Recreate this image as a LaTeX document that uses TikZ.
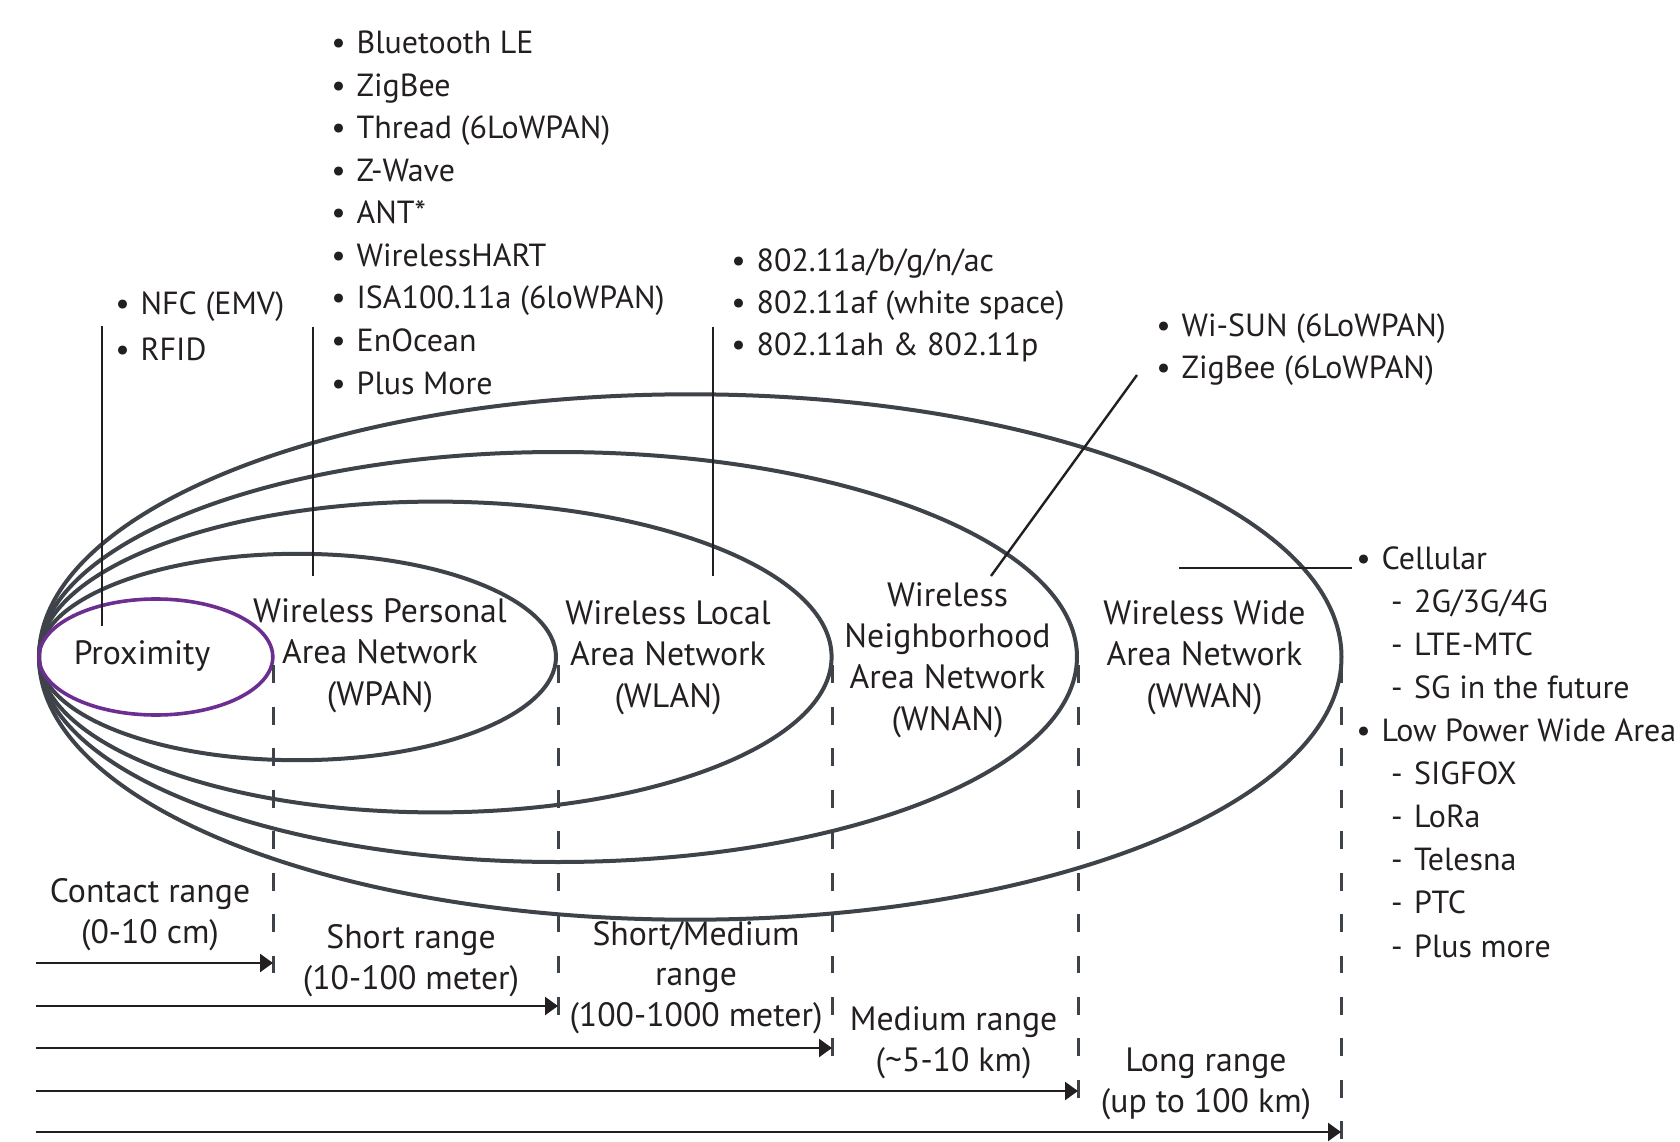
\documentclass[tikz,border=0pt]{standalone}
\usepackage{fontspec}
\setmainfont{PT Sans}
\usetikzlibrary{arrows.meta,positioning}
\definecolor{ringgray}{RGB}{62,67,74}
\definecolor{inkdark}{RGB}{35,31,32}
\definecolor{proxpurple}{RGB}{108,46,145}
\newcommand{\itm}{\makebox[3.6mm][c]{\textbullet}}
\newcommand{\subitm}{\hspace{4.55mm}\makebox[2.3mm][l]{-}}
\tikzset{
  ring/.style={draw=ringgray, line width=0.4mm},
  proxring/.style={draw=proxpurple, line width=0.36mm},
  leader/.style={draw=inkdark, line width=0.24mm},
  bound/.style={draw=ringgray, line width=0.3mm, dash pattern=on 1.8mm off 2.35mm},
  reach/.style={-{Triangle[length=1.3mm,width=1.8mm]}, draw=inkdark, line width=0.25mm},
  zonelbl/.style={align=center, inner sep=0pt, anchor=base, text=inkdark,
    font=\fontsize{9.6}{11.67}\selectfont},
  techlist/.style={align=left, inner sep=0pt, anchor=base west, text=inkdark,
    font=\fontsize{9.1}{12.1}\selectfont},
  rangelbl/.style={align=center, inner sep=0pt, anchor=base, text=inkdark,
    font=\fontsize{9.6}{11.4}\selectfont},
}

\begin{document}
\begin{tikzpicture}[x=0.1mm, y=-0.1mm]
  \useasboundingbox (0,0) rectangle (1680,1142);

  % coverage zones, all touching at the left
  \draw[ring] (690.25,657) ellipse [x radius=651.25, y radius=262.7];
  \draw[ring] (558,657) ellipse [x radius=519, y radius=205];
  \draw[ring] (435.3,657) ellipse [x radius=396.3, y radius=155.4];
  \draw[ring] (297.5,657) ellipse [x radius=258.5, y radius=103.2];
  \draw[proxring] (155.9,657) ellipse [x radius=116.9, y radius=58];

  % (base = last line)
  \node[zonelbl] (prox) at (142,664) {Proximity};
  \node[zonelbl] (wpan) at (380,705) {Wireless Personal\\Area Network\\(WPAN)};
  \node[zonelbl] (wlan) at (668,707) {Wireless Local\\Area Network\\(WLAN)};
  \node[zonelbl] (wnan) at (947.5,730) {Wireless\\Neighborhood\\Area Network\\(WNAN)};
  \node[zonelbl] (wwan) at (1204.5,707) {Wireless Wide\\Area Network\\(WWAN)};

  % technology lists
  \node[techlist, font=\fontsize{9.1}{13}\selectfont] (proxtech) at (104,360)
    {\itm NFC (EMV)\\\itm RFID};
  \node[techlist] (wpantech) at (320,394)
    {\itm Bluetooth LE\\\itm ZigBee\\\itm Thread (6LoWPAN)\\\itm Z-Wave\\\itm ANT*\\
     \itm WirelessHART\\\itm ISA100.11a (6loWPAN)\\\itm EnOcean\\\itm Plus More};
  \node[techlist, font=\fontsize{9.1}{11.85}\selectfont] (wlantech) at (720,355)
    {\itm 802.11a/b/g/n/ac\\\itm 802.11af (white space)\\\itm 802.11ah \& 802.11p};
  \node[techlist, font=\fontsize{9.1}{11.85}\selectfont] (wnantech) at (1145,378)
    {\itm Wi-SUN (6LoWPAN)\\\itm ZigBee (6LoWPAN)};
  \node[techlist, font=\fontsize{9.1}{12.25}\selectfont] (wwantech) at (1345,957)
    {\itm Cellular\\\subitm 2G/3G/4G\\\subitm LTE-MTC\\\subitm SG in the future\\
     \itm Low Power Wide Area\\\subitm SIGFOX\\\subitm LoRa\\\subitm Telesna\\
     \subitm PTC\\\subitm Plus more};

  % leaders from lists into zones
  \coordinate (proxtop) at (102,326);
  \coordinate (proxfoot) at (102,626);
  \coordinate (wpantop) at (313,327);
  \coordinate (wpanfoot) at (313,576);
  \coordinate (wlantop) at (712.7,327);
  \coordinate (wlanfoot) at (712.7,576);
  \coordinate (wnantop) at (1137,375);
  \coordinate (wnanfoot) at (991,576);
  \coordinate (wwanin) at (1179,568);
  \coordinate (wwanout) at (1352,568);
  \draw[leader] (proxtop) -- (proxfoot);
  \draw[leader] (wpantop) -- (wpanfoot);
  \draw[leader] (wlantop) -- (wlanfoot);
  \draw[leader] (wnantop) -- (wnanfoot);
  \draw[leader] (wwanin) -- (wwanout);

  % range limits
  \coordinate (edge1) at (273,665);
  \coordinate (edge2) at (558,665);
  \coordinate (edge3) at (832,665);
  \coordinate (edge4) at (1078,665);
  \coordinate (edge5) at (1341,665);
  \coordinate (foot1) at (273,975);
  \coordinate (foot2) at (558,1018);
  \coordinate (foot3) at (832,1060);
  \coordinate (foot4) at (1078,1103);
  \coordinate (foot5) at (1341,1142);
  \draw[bound] (edge1) -- (foot1);
  \draw[bound] (edge2) -- (foot2);
  \draw[bound] (edge3) -- (foot3);
  \draw[bound] (edge4) -- (foot4);
  \draw[bound] (edge5) -- (foot5);

  \coordinate (start1) at (36,963);
  \coordinate (start2) at (36,1006);
  \coordinate (start3) at (36,1048);
  \coordinate (start4) at (36,1091);
  \coordinate (start5) at (36,1132);
  \draw[reach] (start1) -- (start1 -| foot1);
  \draw[reach] (start2) -- (start2 -| foot2);
  \draw[reach] (start3) -- (start3 -| foot3);
  \draw[reach] (start4) -- (start4 -| foot4);
  \draw[reach] (start5) -- (start5 -| foot5);

  \node[rangelbl] (contact) at (150,943) {Contact range\\(0-10 cm)};
  \node[rangelbl] (short) at (411,989) {Short range\\(10-100 meter)};
  \node[rangelbl] (shortmed) at (696,1026) {Short/Medium\\range\\(100-1000 meter)};
  \node[rangelbl] (medium) at (953.6,1071) {Medium range\\(\textasciitilde 5-10 km)};
  \node[rangelbl] (long) at (1206,1112) {Long range\\(up to 100 km)};
\end{tikzpicture}
\end{document}
